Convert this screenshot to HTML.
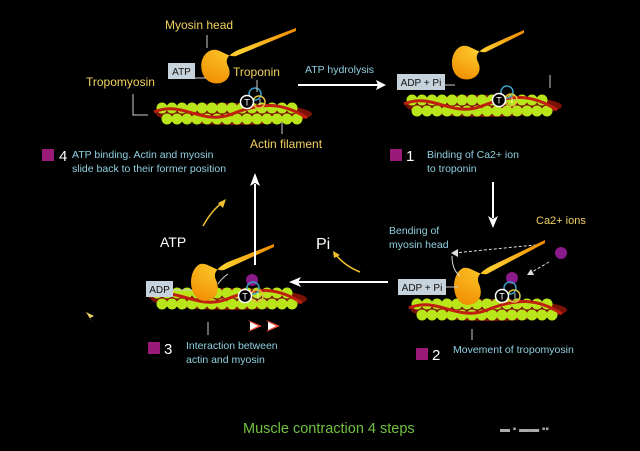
<!DOCTYPE html>
<html><head><meta charset="utf-8"><style>
html,body{margin:0;padding:0;background:#000;}
svg{display:block;font-family:"Liberation Sans",sans-serif;}
</style></head><body>
<svg width="640" height="451" viewBox="0 0 640 451" xmlns="http://www.w3.org/2000/svg">
<defs>
<radialGradient id="hg" cx="0.4" cy="0.4" r="0.7"><stop offset="0" stop-color="#ffd030"/><stop offset="1" stop-color="#f08a00"/></radialGradient>
<linearGradient id="tg" x1="0" y1="1" x2="1" y2="0"><stop offset="0" stop-color="#f5a000"/><stop offset="1" stop-color="#e0501a"/></linearGradient>
<g id="fil">
 <ellipse cx="72" cy="6" rx="78" ry="11" fill="#7a1208"/>
 <g fill="#b8e61a">
  <circle cx="0" cy="0" r="5.5"/><circle cx="10" cy="0" r="5.5"/><circle cx="20" cy="0" r="5.5"/><circle cx="30" cy="0" r="5.5"/><circle cx="40" cy="0" r="5.5"/><circle cx="50" cy="0" r="5.5"/><circle cx="60" cy="0" r="5.5"/><circle cx="70" cy="0" r="5.5"/><circle cx="80" cy="0" r="5.5"/><circle cx="90" cy="0" r="5.5"/><circle cx="100" cy="0" r="5.5"/><circle cx="110" cy="0" r="5.5"/><circle cx="120" cy="0" r="5.5"/><circle cx="130" cy="0" r="5.5"/>
  <circle cx="5" cy="11" r="5.5"/><circle cx="15" cy="11" r="5.5"/><circle cx="25" cy="11" r="5.5"/><circle cx="35" cy="11" r="5.5"/><circle cx="45" cy="11" r="5.5"/><circle cx="55" cy="11" r="5.5"/><circle cx="65" cy="11" r="5.5"/><circle cx="75" cy="11" r="5.5"/><circle cx="85" cy="11" r="5.5"/><circle cx="95" cy="11" r="5.5"/><circle cx="105" cy="11" r="5.5"/><circle cx="115" cy="11" r="5.5"/><circle cx="125" cy="11" r="5.5"/><circle cx="135" cy="11" r="5.5"/>
 </g>
 <path d="M-8,4 C20,-8 40,18 70,6 S120,-6 145,10" fill="none" stroke="#c02010" stroke-width="3"/>
</g>
<g id="head">
 <path d="M0,0 C-14,2 -18,22 -6,30 C6,36 18,30 16,18 C14,10 10,6 20,0 L75,-22 L76,-20 L22,4 C14,10 2,-2 0,0 Z" fill="url(#hg)"/>
</g>
<g id="trop">
 <circle cx="10" cy="-6" r="6" fill="none" stroke="#3aa0c8" stroke-width="1.5"/>
 <circle cx="14" cy="2" r="6" fill="none" stroke="#e0c040" stroke-width="1.5"/>
 <circle cx="2" cy="2" r="6.5" fill="#000" stroke="#fff" stroke-width="1.5"/>
 <text x="2" y="5.5" font-size="9" fill="#fff" text-anchor="middle">T</text>
 <text x="15" y="5" font-size="8" fill="#fff" text-anchor="middle">I</text>
</g>
</defs>

<!-- Panel 1 top-left -->
<use href="#fil" x="162" y="108"/>
<g transform="translate(212,50)"><path d="M0,0 C-14,4 -14,26 -2,32 C10,37 22,28 16,16 C12,8 18,4 26,0 L84,-22 L84,-19 L24,6 C16,8 8,-2 0,0Z" fill="url(#hg)"/></g>
<use href="#trop" x="245" y="100"/>
<rect x="168" y="63" width="27" height="16" fill="#c6d3dc"/><text x="181.5" y="75" font-size="10" fill="#111" text-anchor="middle">ATP</text>
<line x1="195" y1="78" x2="206" y2="78" stroke="#ccc"/>
<text x="165" y="29" font-size="12" fill="#f0d060">Myosin head</text>
<line x1="207" y1="35" x2="207" y2="48" stroke="#ccc"/>
<text x="233" y="76" font-size="12" fill="#f0d060">Troponin</text>
<line x1="257" y1="80" x2="257" y2="92" stroke="#ccc"/>
<text x="86" y="86" font-size="12" fill="#f0d060">Tropomyosin</text>
<polyline points="133,94 133,115 148,115" fill="none" stroke="#ccc"/>
<line x1="282" y1="122" x2="282" y2="134" stroke="#ccc"/>
<text x="250" y="148" font-size="12" fill="#f0d060">Actin filament</text>
<rect x="42" y="149" width="12" height="12" fill="#9a1a7a"/>
<text x="59" y="161" font-size="15" fill="#fff">4</text>
<text x="72" y="158" font-size="10.5" fill="#8fd0e0">ATP binding. Actin and myosin</text>
<text x="72" y="172" font-size="10.5" fill="#8fd0e0">slide back to their former position</text>

<!-- arrow top -->
<text x="305" y="73" font-size="10.5" fill="#8fd0e0">ATP hydrolysis</text>
<line x1="298" y1="85" x2="378" y2="85" stroke="#fff" stroke-width="2"/>
<path d="M386,85 L376,80 L378,85 L376,90Z" fill="#fff"/>

<!-- Panel 2 top-right -->
<use href="#fil" x="412" y="100"/>
<g transform="translate(462,46)"><path d="M0,0 C-12,4 -14,26 -2,32 C10,37 22,28 16,16 C12,8 18,4 26,0 L62,-16 L62,-13 L24,6 C16,8 8,-2 0,0Z" fill="url(#hg)"/></g>
<use href="#trop" x="497" y="98"/>
<rect x="397" y="74" width="48" height="16" fill="#c6d3dc"/><text x="421" y="86" font-size="10" fill="#111" text-anchor="middle">ADP + Pi</text>
<line x1="445" y1="85" x2="455" y2="85" stroke="#ccc"/>
<line x1="550" y1="75" x2="550" y2="88" stroke="#ccc"/>
<line x1="445" y1="75" x2="465" y2="75" stroke="#ccc" opacity="0"/>
<rect x="390" y="149" width="12" height="12" fill="#9a1a7a"/>
<text x="406" y="161" font-size="15" fill="#fff">1</text>
<text x="427" y="158" font-size="10.5" fill="#8fd0e0">Binding of Ca2+ ion</text>
<text x="427" y="172" font-size="10.5" fill="#8fd0e0">to troponin</text>
<line x1="493" y1="182" x2="493" y2="218" stroke="#fff" stroke-width="2"/>
<path d="M493,228 L488,216 L493,219 L498,216Z" fill="#fff"/>

<!-- Panel 3 bottom-right -->
<use href="#fil" x="417" y="304"/>
<g transform="translate(463,268)"><path d="M0,0 C-12,6 -12,30 0,36 C12,40 22,30 16,16 C12,8 20,2 28,-2 L82,-28 L82,-25 L24,6 C16,8 8,-2 0,0Z" fill="url(#hg)"/></g>
<circle cx="512" cy="278" r="6" fill="#8a1a8a"/>
<circle cx="561" cy="253" r="6" fill="#8a1a8a"/>
<use href="#trop" x="500" y="294"/>
<rect x="398" y="279" width="48" height="16" fill="#c6d3dc"/><text x="422" y="291" font-size="10" fill="#111" text-anchor="middle">ADP + Pi</text>
<line x1="446" y1="287" x2="458" y2="287" stroke="#ccc"/>
<text x="389" y="234" font-size="10.5" fill="#8fd0e0">Bending of</text>
<text x="389" y="248" font-size="10.5" fill="#8fd0e0">myosin head</text>
<text x="536" y="224" font-size="11" fill="#f0d060">Ca2+ ions</text>
<line x1="454" y1="253" x2="535" y2="245" stroke="#ddd" stroke-dasharray="3,2"/>
<path d="M451,253 L458,249 L458,257Z" fill="#ddd"/>
<path d="M452,256 Q452,270 460,276" fill="none" stroke="#ddd"/>
<line x1="549" y1="262" x2="530" y2="273" stroke="#ddd" stroke-dasharray="3,2"/>
<path d="M527,275 L531,269 L534,275Z" fill="#ddd"/>
<line x1="472" y1="329" x2="472" y2="340" stroke="#ccc"/>
<rect x="416" y="348" width="12" height="12" fill="#9a1a7a"/>
<text x="432" y="360" font-size="15" fill="#fff">2</text>
<text x="453" y="353" font-size="10.5" fill="#8fd0e0">Movement of tropomyosin</text>

<!-- arrow middle -->
<line x1="298" y1="282" x2="388" y2="282" stroke="#fff" stroke-width="2"/>
<path d="M289,282 L301,277 L298,282 L301,287Z" fill="#fff"/>
<text x="316" y="249" font-size="16" fill="#fff">Pi</text>
<path d="M360,272 Q345,266 336,255" fill="none" stroke="#f0c030" stroke-width="1.5"/>
<path d="M333,251 L340,255 L334,258Z" fill="#f0c030"/>

<!-- Panel 4 bottom-left -->
<use href="#fil" x="157" y="293"/>
<g transform="translate(200,264)"><path d="M0,0 C-12,6 -12,30 0,36 C12,40 22,30 16,16 C12,8 20,2 28,-2 L74,-20 L74,-17 L24,6 C16,8 8,-2 0,0Z" fill="url(#hg)"/></g>
<circle cx="252" cy="280" r="6" fill="#8a1a8a"/>
<use href="#trop" x="243" y="294"/>
<path d="M218,284 Q222,278 228,274" fill="none" stroke="#ddd"/>
<rect x="146" y="281" width="27" height="16" fill="#c6d3dc"/><text x="159.5" y="293" font-size="10" fill="#111" text-anchor="middle">ADP</text>
<line x1="173" y1="290" x2="192" y2="290" stroke="#ccc"/>
<path d="M248,320 L262,326 L248,332 L254,326Z" fill="#f05040"/><path d="M250,322 L258,326 L250,330Z" fill="#fff"/>
<path d="M266,320 L280,326 L266,332 L272,326Z" fill="#f05040"/><path d="M268,322 L276,326 L268,330Z" fill="#fff"/>
<line x1="208" y1="322" x2="208" y2="335" stroke="#ccc"/>
<rect x="148" y="342" width="12" height="12" fill="#9a1a7a"/>
<text x="164" y="354" font-size="15" fill="#fff">3</text>
<text x="186" y="349" font-size="10.5" fill="#8fd0e0">Interaction between</text>
<text x="186" y="363" font-size="10.5" fill="#8fd0e0">actin and myosin</text>
<line x1="255" y1="265" x2="255" y2="184" stroke="#fff" stroke-width="2"/>
<path d="M255,173 L250,186 L255,183 L260,186Z" fill="#fff"/>
<text x="160" y="247" font-size="14" fill="#fff">ATP</text>
<path d="M203,226 Q212,210 222,203" fill="none" stroke="#f0c030" stroke-width="1.5"/>
<path d="M226,199 L223,208 L218,203Z" fill="#f0c030"/>

<path d="M86,312 L94,316 L90,318 L92,322Z" fill="#f0d060"/>
<text x="243" y="433" font-size="14.5" fill="#70c040">Muscle contraction 4 steps</text>
<text x="500" y="432" font-size="10" fill="#aaa">▬ ▪ ▬▬ ▪▪</text>
</svg>
</body></html>
